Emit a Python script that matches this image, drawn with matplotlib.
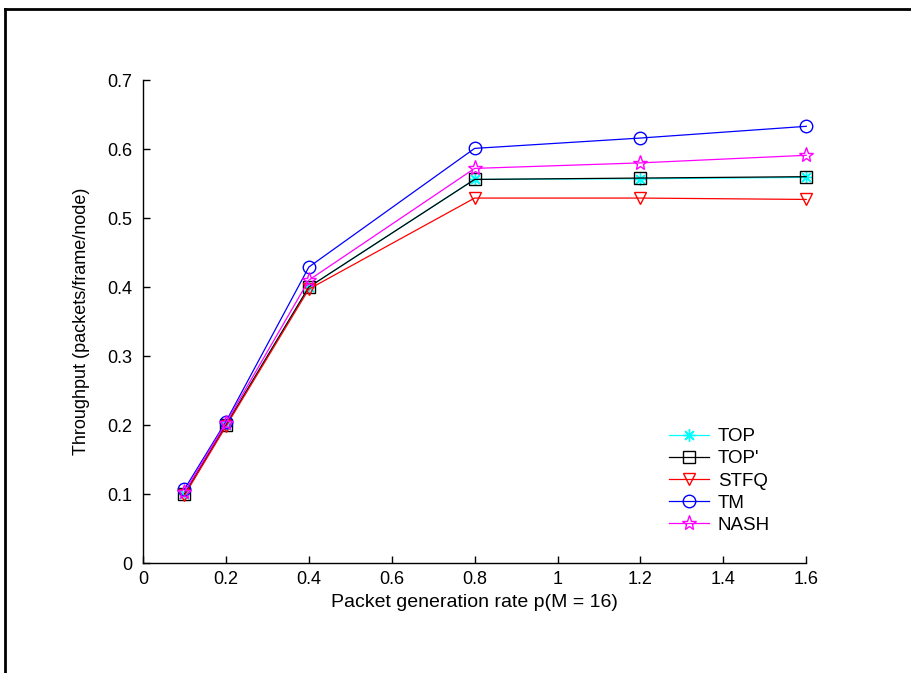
import matplotlib
matplotlib.use("Agg")
import matplotlib.pyplot as plt
from matplotlib.lines import Line2D

plt.rcParams['font.family'] = ['Liberation Sans', 'DejaVu Sans']

# data
p = [0.1, 0.2, 0.4, 0.8, 1.2, 1.6]
top = [0.100, 0.200, 0.400, 0.556, 0.557, 0.559]
top_prime = [0.100, 0.200, 0.400, 0.556, 0.558, 0.560]
stfq = [0.098, 0.198, 0.397, 0.529, 0.529, 0.527]
tm = [0.107, 0.205, 0.429, 0.601, 0.616, 0.633]
nash = [0.103, 0.203, 0.410, 0.572, 0.580, 0.591]

fig = plt.figure(figsize=(9.11, 6.73), dpi=100)
ax = fig.add_axes([0.157, 0.1634, 0.728, 0.7176])

ax.plot(p, top, color='cyan', marker=(8, 2, 0), ms=9, lw=0.9, label='TOP', clip_on=False)
ax.plot(p, top_prime, color='black', marker='s', ms=9, mfc='none', lw=0.9, label="TOP'", clip_on=False)
ax.plot(p, stfq, color='red', marker='v', ms=9, mfc='none', lw=0.9, label='STFQ', clip_on=False)
ax.plot(p, tm, color='blue', marker='o', ms=9, mfc='none', lw=0.9, label='TM', clip_on=False)
ax.plot(p, nash, color='magenta', marker='*', ms=11, mfc='none', lw=0.9, label='NASH', clip_on=False)

ax.set_xlim(0, 1.6)
ax.set_ylim(0, 0.7)
ax.set_xticks([0, 0.2, 0.4, 0.6, 0.8, 1, 1.2, 1.4, 1.6])
ax.set_xticklabels(['0', '0.2', '0.4', '0.6', '0.8', '1', '1.2', '1.4', '1.6'])
ax.set_yticks([0, 0.1, 0.2, 0.3, 0.4, 0.5, 0.6, 0.7])
ax.set_yticklabels(['0', '0.1', '0.2', '0.3', '0.4', '0.5', '0.6', '0.7'])
ax.tick_params(direction='in', length=5, width=1, labelsize=13, pad=6)
ax.tick_params(axis='y', pad=8)
for s in ['left', 'bottom']:
    ax.spines[s].set_linewidth(1)
ax.spines['top'].set_visible(False)
ax.spines['right'].set_visible(False)
ax.set_xlabel('Packet generation rate p(M = 16)', fontsize=14, labelpad=4)
ax.set_ylabel('Throughput (packets/frame/node)', fontsize=13, labelpad=12)

ax.legend(loc='lower left', bbox_to_anchor=(0.793, 0.06), frameon=False,
          fontsize=13.5, handlelength=2.15, handletextpad=0.45,
          labelspacing=0.27, borderpad=0.0, borderaxespad=0.0)

# outer frame (left and top edges visible)
fig.add_artist(Line2D([0.005, 0.005], [0, 0.986], color='black', lw=2, transform=fig.transFigure))
fig.add_artist(Line2D([0.005, 1.0], [0.986, 0.986], color='black', lw=2, transform=fig.transFigure))

fig.savefig('out.png', dpi=100)
